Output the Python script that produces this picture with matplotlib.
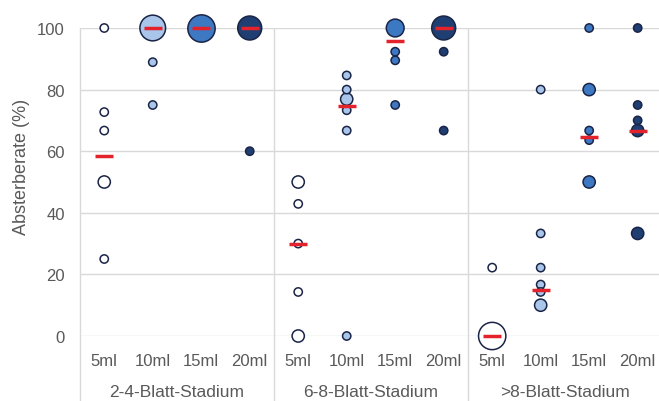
import matplotlib.pyplot as plt
import numpy as np

plt.rcParams["font.family"] = ["Liberation Sans", "DejaVu Sans"]

stages = ["2-4-Blatt-Stadium", "6-8-Blatt-Stadium", ">8-Blatt-Stadium"]
doses = ["5ml", "10ml", "15ml", "20ml"]

# kill rate (%) per stage/dose column, with number of replicates at each rate
rates = [
    [100, 72.7, 66.7, 50, 25],
    [100, 88.9, 75],
    [100],
    [100, 60],
    [50, 42.9, 30, 14.3, 0],
    [84.6, 80, 76.9, 73.3, 66.7, 0],
    [100, 92.3, 89.5, 75],
    [100, 92.3, 66.7],
    [22.2, 0],
    [80, 33.3, 22.2, 16.7, 14.3, 10],
    [100, 80, 66.7, 63.6, 50],
    [100, 75, 70, 66.7, 33.3],
]
counts = [
    [1, 1, 1, 2, 1],
    [8, 1, 1],
    [9],
    [7, 1],
    [2, 1, 1, 1, 2],
    [1, 1, 2, 1, 1, 1],
    [4, 1, 1, 1],
    [7, 1, 1],
    [1, 9],
    [1, 1, 1, 1, 1, 2],
    [1, 2, 1, 1, 2],
    [1, 1, 1, 2, 2],
]
means = [58.3, 100, 100, 100, 30, 74.7, 95.8, 100, 0, 15, 64.6, 66.7]

dose_colors = ["#ffffff", "#a9c6ea", "#3d78c2", "#1f3f73"]
edge = "#1a2447"
grey = "#595959"
line_grey = "#d9d9d9"

fig = plt.figure(figsize=(6.59, 4.02), dpi=100)
ax = fig.add_axes([80 / 659, 65 / 402, 579 / 659, 308 / 402])

for i, (vals, ns) in enumerate(zip(rates, counts)):
    ns = np.array(ns, dtype=float)
    d = 9.5 * np.sqrt(ns) - 1.2          # marker diameter in px
    sizes = (d * 0.72) ** 2
    order = np.argsort(-ns)
    ax.scatter(np.full(len(vals), i)[order], np.array(vals)[order], s=sizes[order],
               facecolor=dose_colors[i % 4], edgecolor=edge, linewidth=1.1,
               zorder=3, clip_on=False)

ax.plot(range(len(means)), means, ls="none", marker="_", markersize=13,
        markeredgewidth=2.5, color="#e3222b", zorder=5, clip_on=False)

ax.set_xlim(-0.5, 11.44)
ax.set_ylim(0, 100)
ax.set_yticks(range(0, 101, 20))
ax.set_xticks(range(12))
ax.set_xticklabels(doses * 3)
ax.tick_params(axis="both", length=0, labelsize=12, labelcolor=grey)
ax.tick_params(axis="x", pad=12)
ax.tick_params(axis="y", pad=11)
ax.yaxis.grid(True, color=line_grey, linewidth=1)
ax.set_axisbelow(True)
for sp in ax.spines.values():
    sp.set_visible(False)

# separators between stages reach down through the category labels
ax.vlines([-0.5, 3.5, 7.5], -21.5, 100, color=line_grey, linewidth=1,
          clip_on=False, zorder=1)

for k, name in enumerate(stages):
    ax.text(4 * k + 1.5, -17.9, name, ha="center", va="center",
            fontsize=12.5, color=grey)

fig.text(22 / 659, 1 - 167 / 402, "Absterberate (%)", rotation=90,
         ha="center", va="center", fontsize=13, color=grey)

fig.savefig("out.png", dpi=100)
